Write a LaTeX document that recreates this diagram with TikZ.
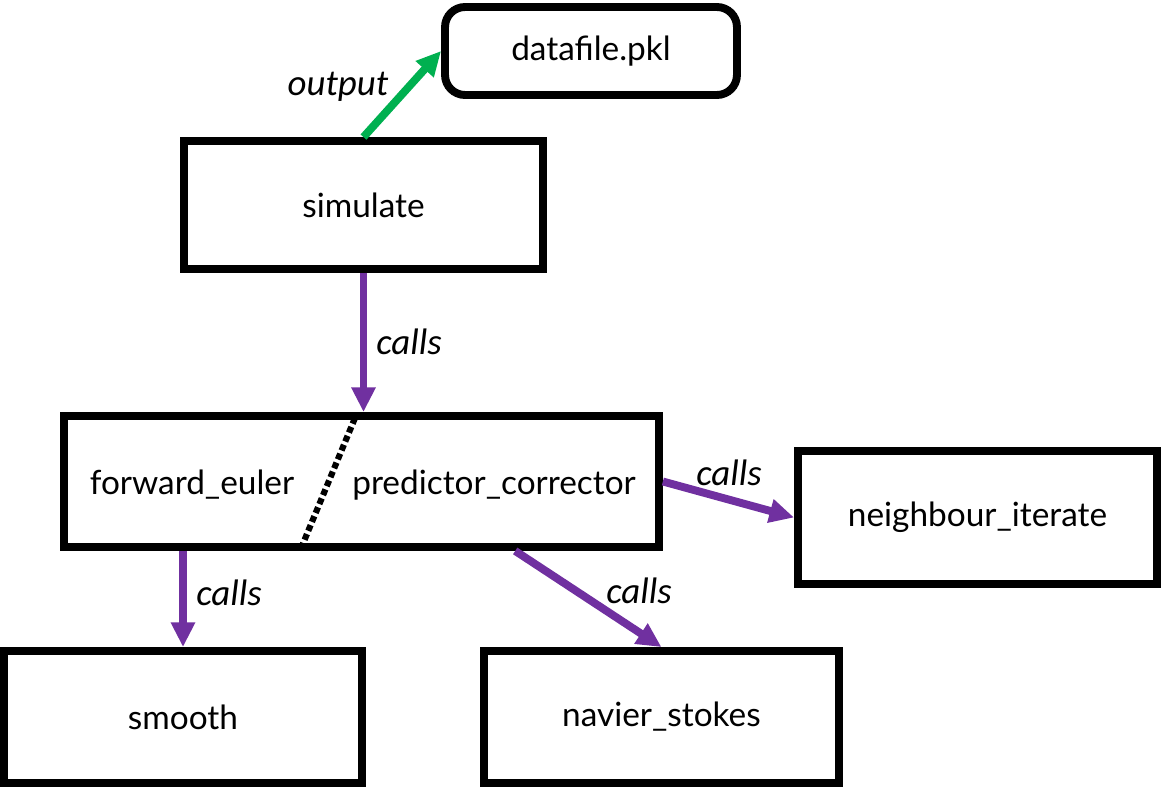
\documentclass[tikz,border=0pt]{standalone}
\usepackage{fontspec}
\setmainfont{Lato}
\newfontfamily\labelfont{Carlito}
\usetikzlibrary{arrows.meta,positioning,calc}
\definecolor{callpurple}{HTML}{7030A0}
\definecolor{outgreen}{HTML}{00B050}
\tikzset{
  func/.style={draw=black, line width=4.5pt, inner sep=0pt,
    font=\fontsize{19}{22}\selectfont},
  filebox/.style={func, rounded corners=0.4cm},
  fname/.style={inner sep=0pt, font=\fontsize{19}{22}\selectfont},
  callarrow/.style={-{Triangle[length=14pt, width=13pt]}, line width=4.5pt, color=callpurple},
  outarrow/.style={callarrow, color=outgreen},
  lbl/.style={font=\labelfont\itshape\fontsize{21}{24}\selectfont},
}
\begin{document}
\begin{tikzpicture}[x=0.02cm,y=-0.02cm]
  \useasboundingbox (0,0) rectangle (1161,787);
  % the functions
  \node[filebox, minimum width=5.84cm, minimum height=1.76cm] (data) at (591,51) {datafile.pkl};
  \node[func, minimum width=7.18cm, minimum height=2.56cm] (sim) at (363.5,205) {simulate};
  \node[func, minimum width=11.9cm, minimum height=2.62cm] (mid) at (361.5,481.5) {};
  \node[fname] (fe) at (192,485) {forward\_euler};
  \node[fname] (pc) at (494,485) {predictor\_corrector};
  \node[func, minimum width=7.18cm, minimum height=2.66cm] (nb) at (977.5,517.5) {neighbour\_iterate};
  \node[func, minimum width=7.16cm, minimum height=2.64cm] (smooth) at (183,717) {smooth};
  \node[func, minimum width=7.1cm, minimum height=2.64cm] (nav) at (661.5,717) {navier\_stokes};
  % split between the two integrators
  \coordinate (cuttop) at (355,418);
  \coordinate (cutbot) at (302,546);
  \draw[line width=3.5pt, dotted] (cuttop) -- (cutbot);
  % connectors
  \draw[outarrow] (sim.north) -- (data.west);
  \node[lbl] (out) at (338,87) {output};
  \draw[callarrow] (sim.south) -- (sim.south |- mid.north);
  \node[lbl] (c1) at (409,342) {calls};
  \draw[callarrow] (mid.east) -- (nb.west);
  \node[lbl] (c2) at (729,473) {calls};
  \draw[callarrow] (mid.south -| smooth.north) -- (smooth.north);
  \node[lbl] (c3) at (229,593) {calls};
  \draw[callarrow] ($(mid.south west)!0.755!(mid.south east)$) -- (nav.north);
  \node[lbl] (c4) at (639,591) {calls};
\end{tikzpicture}
\end{document}
